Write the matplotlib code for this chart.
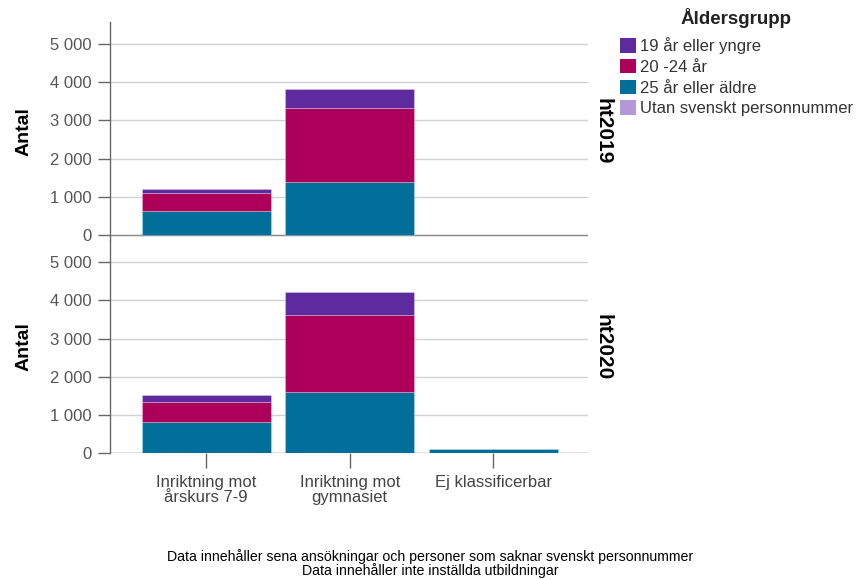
import matplotlib
matplotlib.use("Agg")
import matplotlib.pyplot as plt
from matplotlib.patches import Patch
import numpy as np

plt.rcParams['font.family'] = ['Liberation Sans', 'DejaVu Sans']

categories = ["Inriktning mot\nårskurs 7-9", "Inriktning mot\ngymnasiet", "Ej klassificerbar"]
groups = ["19 år eller yngre", "20 -24 år", "25 år eller äldre", "Utan svenskt personnummer"]
colors = ["#5e2a9e", "#ad005b", "#00709a", "#b497d9"]
panels = ["ht2019", "ht2020"]

# values per panel, per category
ht2019_25 = [630, 1400, 0]
ht2019_20_24 = [470, 1930, 0]
ht2019_19 = [100, 480, 0]
ht2019_utan = [0, 0, 0]

ht2020_25 = [800, 1590, 100]
ht2020_20_24 = [550, 2030, 0]
ht2020_19 = [160, 600, 0]
ht2020_utan = [0, 0, 0]

yticks = [0, 1000, 2000, 3000, 4000, 5000]
ytick_labels = ["0", "1 000", "2 000", "3 000", "4 000", "5 000"]

data = {
    "ht2019": [ht2019_19, ht2019_20_24, ht2019_25, ht2019_utan],
    "ht2020": [ht2020_19, ht2020_20_24, ht2020_25, ht2020_utan],
}

fig = plt.figure(figsize=(8.58, 5.80), dpi=100)
W, H = 858, 580
left, right = 110, 588
ax_top = fig.add_axes([left / W, 1 - 241 / H, (right - left) / W, (241 - 22) / H])
ax_bot = fig.add_axes([left / W, 1 - 453 / H, (right - left) / W, (453 - 241) / H])

x = np.arange(len(categories))
stack_order = [2, 1, 0, 3]
for ax, panel, ylim in [(ax_top, "ht2019", (-150, 5570)), (ax_bot, "ht2020", (0, 5560))]:
    vals = data[panel]
    bottom = np.zeros(len(categories))
    for gi in stack_order:
        v = np.array(vals[gi], dtype=float)
        m = v > 0
        if m.any():
            ax.bar(x[m], v[m], width=0.9, bottom=bottom[m], color=colors[gi],
                   edgecolor=(1, 1, 1, 0.3), linewidth=0.6, zorder=3)
        bottom += v
    ax.set_ylim(*ylim)
    ax.set_xlim(-0.67, 2.66)
    ax.set_yticks(yticks)
    ax.set_yticklabels(ytick_labels)
    for s in ["top", "right", "bottom"]:
        ax.spines[s].set_visible(False)
    ax.spines["left"].set_color("#666666")
    ax.spines["left"].set_linewidth(1.0)
    ax.yaxis.grid(True, color="#d2d2d2", linewidth=1.0, zorder=0)
    ax.set_axisbelow(True)
    ax.axhline(0, color="#8c8c8c", linewidth=1.0, zorder=2)
    ax.tick_params(axis="y", length=9, width=1, color="#666666", labelcolor="#555555",
                   labelsize=12, pad=4)
    ax.set_ylabel("Antal", fontsize=14, fontweight="bold")
    ax.yaxis.set_label_coords(-0.162, 0.5)
    ax.text(1.031, 0.5, panel, transform=ax.transAxes, rotation=-90,
            fontsize=15, fontweight="bold", ha="center", va="center")

ax_top.set_xticks([])
ax_bot.set_xticks(x)
ax_bot.set_xticklabels(categories, fontsize=12, color="#444444", linespacing=1.0)
ax_bot.tick_params(axis="x", length=11, width=1, color="#666666", pad=5)

handles = [Patch(facecolor=c, edgecolor="none") for c in colors]
leg = fig.legend(handles, groups, loc="upper left", bbox_to_anchor=(613 / W, 1 - 1 / H),
                 frameon=False, fontsize=12, title="Åldersgrupp",
                 title_fontproperties={"size": 13.5, "weight": "bold"},
                 handlelength=0.95, handleheight=0.95, handletextpad=0.25,
                 labelspacing=0.285, borderaxespad=0)
leg._legend_box.sep = 7
leg.get_title().set_color("#222222")
for t in leg.get_texts():
    t.set_color("#333333")

fig.text(430 / W, 1 - 557 / H, "Data innehåller sena ansökningar och personer som saknar svenskt personnummer",
         ha="center", va="center", fontsize=10.2)
fig.text(430 / W, 1 - 571 / H, "Data innehåller inte inställda utbildningar",
         ha="center", va="center", fontsize=10.2)

fig.savefig("out.png", dpi=100)
